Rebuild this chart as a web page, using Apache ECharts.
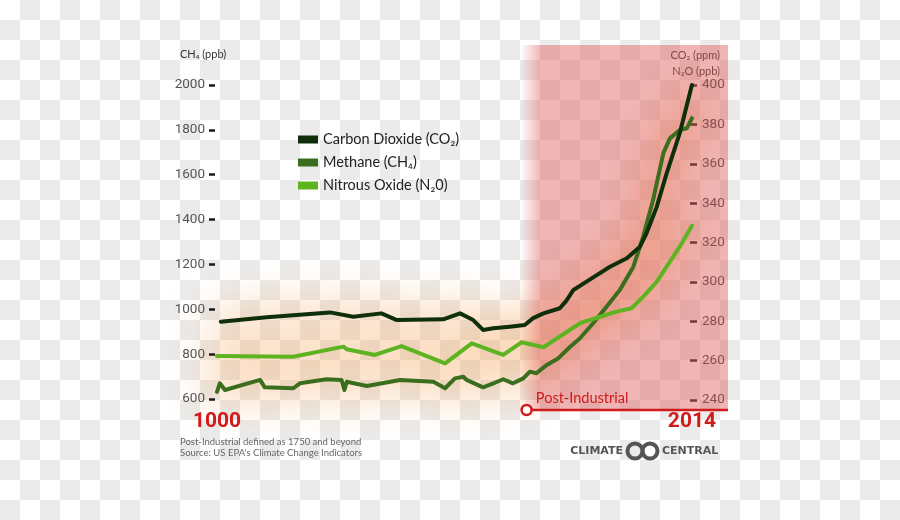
<!DOCTYPE html>
<html><head><meta charset="utf-8">
<script src="https://cdn.jsdelivr.net/npm/echarts@6/dist/echarts.min.js"></script>
<style>
html,body{margin:0;padding:0;width:900px;height:520px;overflow:hidden;
background:repeating-conic-gradient(#ebebeb 0 25%, #ffffff 0 50%) 0 0/40px 40px;}
#glow,#c{position:absolute;left:0;top:0;width:900px;height:520px;}
#glow{filter:blur(22px);}
</style></head><body><div id="glow"></div><div id="c"></div>
<script>
// ---- data ----
const co2Years = [1008,1106,1241,1291,1351,1384,1483,1519,1547,1568,1590,1625,1657,1675,1697,1732,1746,1761,1789,1839,1875,1903,1917,1939,1960,1988,2014];
const co2Vals  = [279.8,282.0,284.5,282.3,284.0,280.6,281.0,284.0,280.6,275.6,276.4,277.2,278.1,281.6,284.0,286.6,290.5,295.9,300.1,307.7,312.0,317.9,324.7,338.2,355.1,375.5,400];

const ch4Years = [1000,1006,1017,1092,1102,1163,1177,1234,1266,1272,1277,1320,1391,1462,1487,1508,1526,1533,1568,1590,1611,1632,1654,1668,1682,1704,1729,1754,1775,1803,1832,1860,1889,1910,1931,1953,1967,1988,2003,2014];
const ch4Vals  = [632,670,640,685,652,648,670,688,685,640,677,658,685,677,648,692,699,685,652,670,688,670,692,722,715,752,782,833,871,938,1012,1086,1190,1324,1487,1696,1762,1799,1807,1852];

const n2oYears = [1000,1163,1270,1277,1337,1394,1487,1544,1611,1650,1697,1775,1818,1853,1885,1910,1939,1960,1988,2014];
const n2oVals  = [262.3,262.0,267.1,265.8,262.9,267.4,258.6,268.8,262.9,269.3,266.8,279.0,282.3,284.9,286.6,292.5,300.1,307.7,317.9,328.5];

const seriesNames = ['Carbon Dioxide (CO\u2082)', 'Methane (CH\u2084)', 'Nitrous Oxide (N\u20820)'];
const leftTicks  = [600,800,1000,1200,1400,1600,1800,2000];
const rightTicks = [240,260,280,300,320,340,360,380,400];
const xTickLabels = [1000, 2014];
const postIndustrialMarker = 1661;
const postIndustrialShade = 1647;
const xMin = 1000, xMax = 2091;
const leftMin = 550.96, leftMax = 2178.34;
const rightMin = 234.92, rightMax = 420.32;

const zip = (xs, ys) => xs.map((x, i) => [x, ys[i]]);
const cond = "Roboto,sans-serif";
const red = '#cf1b1b';
const gridBox = {left: 217, right: 172, top: 45, bottom: 110, outerBoundsMode: 'none'};
const ch4Data = zip(ch4Years, ch4Vals), n2oData = zip(n2oYears, n2oVals), co2Data = zip(co2Years, co2Vals);

function mainLine(name, axis, data, color, z) {
  return {name: name, type: 'line', yAxisIndex: axis, data: data, symbol: 'none', clip: false, z: z,
    itemStyle: {color: color},
    lineStyle: {width: 4, color: color, join: 'round', cap: 'round'}};
}

// ---- soft orange glow: the same series drawn thick in a layer that CSS blurs ----
const glowChart = echarts.init(document.getElementById('glow'), null, {renderer: 'canvas'});
const glowStyle = {width: 24, color: 'rgba(245,160,80,0.42)', join: 'round', cap: 'round'};
glowChart.setOption({
  backgroundColor: 'transparent', animation: false,
  grid: gridBox,
  xAxis: {type: 'value', min: xMin, max: xMax, show: false},
  yAxis: [{type: 'value', min: leftMin, max: leftMax, show: false},
          {type: 'value', min: rightMin, max: rightMax, show: false}],
  series: [
    {type: 'line', yAxisIndex: 0, data: ch4Data, symbol: 'none', clip: false, lineStyle: glowStyle},
    {type: 'line', yAxisIndex: 1, data: n2oData, symbol: 'none', clip: false, lineStyle: glowStyle},
    {type: 'line', yAxisIndex: 1, data: co2Data, symbol: 'none', clip: false, lineStyle: glowStyle}
  ]
});

const chart = echarts.init(document.getElementById('c'), null, {renderer: 'canvas'});
chart.setOption({
  backgroundColor: 'transparent',
  animation: false,
  grid: gridBox,
  legend: {
    orient: 'vertical', left: 293, top: 127, itemWidth: 20, itemHeight: 8, itemGap: 8,
    icon: 'rect', selectedMode: false, data: seriesNames,
    textStyle: {fontFamily: 'Lato', fontSize: 14.5, color: '#222'}
  },
  xAxis: {type: 'value', min: xMin, max: xMax,
     axisLine: {show: false}, axisTick: {show: false}, splitLine: {show: false},
     axisLabel: {customValues: xTickLabels, color: red, fontSize: 21, fontWeight: 'bold',
       fontFamily: cond, margin: 1, formatter: v => String(v)}},
  yAxis: [
    {type: 'value', position: 'left', min: leftMin, max: leftMax, offset: 2,
     axisLine: {show: false}, splitLine: {show: false},
     axisTick: {show: true, customValues: leftTicks, length: 6, lineStyle: {color: '#1a1a1a', width: 2.5}},
     axisLabel: {customValues: leftTicks, margin: 10, color: '#555', fontSize: 13.5,
       fontFamily: cond, formatter: v => String(v)}},
    {type: 'value', position: 'right', min: rightMin, max: rightMax, offset: -38,
     axisLine: {show: false}, splitLine: {show: false},
     axisTick: {show: true, customValues: rightTicks, length: 7, lineStyle: {color: '#1a1a1a', width: 2.5}},
     axisLabel: {customValues: rightTicks, margin: 12, color: '#444', fontSize: 13.5,
       fontFamily: cond, formatter: v => String(v)}}
  ],
  series: [
    {name: 'post', type: 'line', yAxisIndex: 0, clip: false, silent: true, z: 3,
     data: [
       {value: [postIndustrialMarker, leftMin], symbol: 'circle', symbolSize: 10,
        label: {show: true, position: 'right', distance: 3, offset: [0, -12], formatter: 'Post-Industrial',
                color: red, fontSize: 14.5, fontFamily: 'Lato'}},
       {value: [xMax, leftMin], symbol: 'none'}
     ],
     lineStyle: {color: red, width: 2.5},
     itemStyle: {color: '#fff', borderColor: red, borderWidth: 2.5},
     markArea: {silent: true, z: 1,
       itemStyle: {color: new echarts.graphic.LinearGradient(0, 0, 1, 0, [
         {offset: 0, color: 'rgba(222,92,92,0)'},
         {offset: 0.1, color: 'rgba(222,92,92,0.45)'},
         {offset: 1, color: 'rgba(222,92,92,0.45)'}])},
       data: [[{xAxis: postIndustrialShade}, {xAxis: xMax}]]}
    },
    mainLine(seriesNames[1], 0, ch4Data, '#3b6e1c', 5),
    mainLine(seriesNames[2], 1, n2oData, '#5db320', 5),
    mainLine(seriesNames[0], 1, co2Data, '#0f2e0a', 6)
  ],
  graphic: [
    {type: 'text', left: 180, top: 49, style: {text: 'CH\u2084 (ppb)', font: '11px Lato', fill: '#333'}},
    {type: 'text', right: 180, top: 50, style: {text: 'CO\u2082 (ppm)', font: '11px Lato', fill: '#333', align: 'right'}},
    {type: 'text', right: 180, top: 66, style: {text: 'N\u2082O (ppb)', font: '11px Lato', fill: '#333', align: 'right'}},
    {type: 'text', left: 180, top: 437, style: {text: 'Post-Industrial defined as 1750 and beyond', font: '9.5px Lato', fill: '#666'}},
    {type: 'text', left: 180, top: 448, style: {text: "Source: US EPA's Climate Change Indicators", font: '9.5px Lato', fill: '#666'}},
    {type: 'text', x: 623, y: 451, style: {text: 'CLIMATE', font: 'bold 11px "DejaVu Sans"', fill: '#555', align: 'right', verticalAlign: 'middle'}},
    {type: 'text', x: 662, y: 451, style: {text: 'CENTRAL', font: 'bold 11px "DejaVu Sans"', fill: '#555', align: 'left', verticalAlign: 'middle'}},
    {type: 'circle', shape: {cx: 635, cy: 451, r: 7.5}, style: {fill: 'none', stroke: '#555', lineWidth: 4}},
    {type: 'circle', shape: {cx: 650, cy: 451, r: 7.5}, style: {fill: 'none', stroke: '#555', lineWidth: 4}}
  ]
});
</script></body></html>
